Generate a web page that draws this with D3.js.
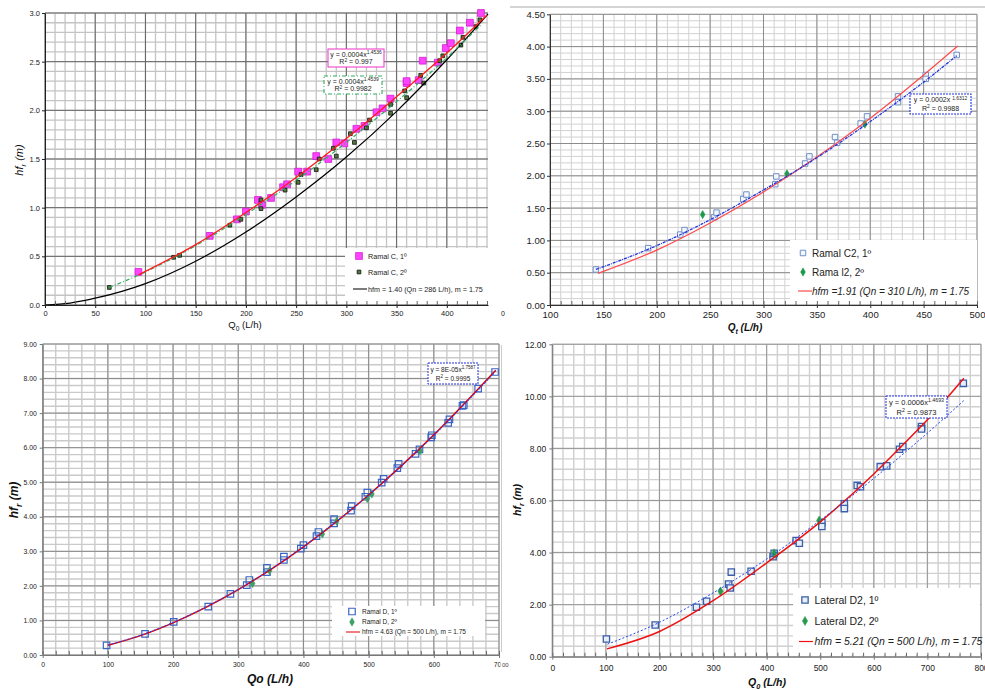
<!DOCTYPE html>
<html>
<head>
<meta charset="utf-8">
<script src="https://cdn.jsdelivr.net/npm/d3@7"></script>
<style>
  body { margin: 0; background: #fff; }
  svg { font-family: "Liberation Sans", Arial, sans-serif; }
</style>
</head>
<body>
<svg id="fig" width="985" height="690"></svg>
<script>
// ---- data ----
// Ramal C (top left)
const ramalC1 = [[93,0.34],[164,0.71],[191,0.88],[200,0.96],[212,1.08],[216,1.03],[225,1.10],[237,1.21],[241,1.24],[252,1.37],[261,1.37],[270,1.53],[282,1.50],[290,1.67],[298,1.66],[310,1.81],[318,1.84],[330,1.98],[336,2.02],[344,2.12],[360,2.28],[360,2.30],[372,2.31],[376,2.51],[391,2.49],[399,2.64],[404,2.69],[413,2.82],[423,2.90],[434,3.00]];
const ramalC2 = [[64,0.18],[128,0.49],[134,0.51],[184,0.82],[195,0.88],[215,1.08],[215,0.99],[239,1.18],[252,1.26],[255,1.34],[270,1.39],[273,1.50],[287,1.61],[290,1.53],[304,1.76],[308,1.67],[320,1.82],[323,1.90],[344,2.06],[344,1.97],[358,2.20],[360,2.13],[374,2.36],[377,2.28],[393,2.51],[396,2.56],[414,2.67],[416,2.75],[429,2.86],[433,2.93]];
const fitC1 = [[93,0.31],[150,0.62],[200,0.95],[250,1.31],[300,1.71],[350,2.14],[400,2.59],[440,2.98]];
const fitC2 = [[64,0.18],[100,0.34],[150,0.61],[200,0.93],[250,1.28],[300,1.67],[350,2.09],[400,2.54],[434,2.88]];
const hfmC = [[0,0],[25,0.02],[50,0.07],[100,0.22],[150,0.45],[200,0.75],[250,1.11],[300,1.52],[350,1.99],[400,2.52],[441,2.99]];

// Ramal C2 (top right)
const ramalC2a = [[143,0.55],[192,0.88],[222,1.09],[226,1.16],[254,1.36],[256,1.43],[281,1.64],[284,1.71],[311,1.87],[312,1.99],[339,2.19],[343,2.30],[367,2.60],[369,2.51],[391,2.81],[397,2.92],[426,3.23],[426,3.14],[452,3.56],[452,3.50],[481,3.87]];
const ramalI2b = [[243,1.40],[322,2.03],[395,2.80]];
const fitC2a = [[143,0.55],[200,0.92],[250,1.32],[300,1.78],[350,2.28],[400,2.84],[450,3.45],[481,3.86]];
const hfmC2 = [[145,0.49],[200,0.85],[250,1.27],[300,1.75],[350,2.29],[400,2.89],[450,3.56],[482,4.01]];

// Ramal D (bottom left)
const ramalD1 = [[98,0.28],[157,0.61],[201,0.96],[254,1.40],[288,1.77],[313,2.02],[317,2.17],[344,2.40],[344,2.52],[370,2.75],[370,2.85],[396,3.08],[400,3.18],[420,3.44],[423,3.56],[447,3.81],[447,3.93],[473,4.18],[474,4.31],[495,4.58],[498,4.70],[520,4.99],[523,5.10],[544,5.41],[546,5.53],[572,5.82],[578,5.95],[596,6.30],[597,6.36],[622,6.72],[624,6.82],[644,7.21],[646,7.23],[668,7.71],[694,8.19]];
const ramalD2 = [[322,2.07],[348,2.44],[429,3.50],[451,3.87],[498,4.53],[505,4.66],[579,5.91]];
const fitD1 = [[100,0.29],[150,0.57],[200,0.94],[300,1.90],[400,3.14],[500,4.63],[600,6.36],[695,8.21]];
const hfmD = [[100,0.28],[150,0.56],[200,0.93],[300,1.89],[400,3.13],[500,4.63],[600,6.37],[695,8.24]];

// Lateral D2 (bottom right)
const latD2a = [[101,0.68],[192,1.22],[269,1.90],[288,2.13],[329,2.79],[332,2.64],[334,3.25],[371,3.28],[412,3.84],[414,3.97],[455,4.46],[461,4.36],[503,5.15],[503,5.00],[545,5.87],[545,5.69],[569,6.58],[575,6.53],[612,7.30],[624,7.33],[648,7.97],[654,8.07],[689,8.84],[689,8.75],[767,10.50]];
const latD2b = [[314,2.51],[414,3.97],[498,5.23]];
const fitD2 = [[103,0.48],[200,1.32],[300,2.45],[400,3.75],[500,5.24],[600,6.85],[700,8.59],[768,9.84]];
const hfmD2 = [[102,0.30],[200,0.97],[300,2.15],[400,3.60],[500,5.18],[600,7.02],[650,8.05],[700,9.10],[768,10.70]];

// tick values
const p1XTicks = [0,50,100,150,200,250,300,350,400];
const p1YTicks = [0,0.5,1,1.5,2,2.5,3];
const p2XTicks = [100,150,200,250,300,350,400,450,500];
const p2YTicks = [0,0.5,1,1.5,2,2.5,3,3.5,4,4.5];
const p3XTicks = [0,100,200,300,400,500,600,700];
const p3YTicks = [0,1,2,3,4,5,6,7,8,9];
const p4XTicks = [0,100,200,300,400,500,600,700,800];
const p4YTicks = [0,2,4,6,8,10,12];

const FONT = '"Liberation Sans", Arial, sans-serif';
const svg = d3.select("#fig");

// text with sub/superscript parts: [[text, "sub"|"sup"|null], ...]
function richText(sel, parts, size) {
  let shift = 0;
  parts.forEach(([t, kind]) => {
    const target = kind === "sub" ? size * 0.3 : kind === "sup" ? -size * 0.4 : 0;
    sel.append("tspan")
      .attr("dy", target - shift)
      .attr("font-size", kind ? size * 0.7 : size)
      .text(t);
    shift = target;
  });
  return sel;
}

function drawPanel(p) {
  const g = svg.append("g");
  if (p.clip) {
    svg.append("clipPath").attr("id", p.clip.id)
      .append("rect")
      .attr("x", p.clip.x).attr("y", p.clip.y).attr("width", p.clip.w).attr("height", p.clip.h);
    g.attr("clip-path", `url(#${p.clip.id})`);
  }
  const x = d3.scaleLinear().domain(p.xDomain).range([p.left, p.right]);
  const y = d3.scaleLinear().domain(p.yDomain).range([p.bottom, p.top]);

  const minorX = d3.range(p.xDomain[0], p.xDomain[1] + 1e-6, p.xMinor);
  const minorY = d3.range(p.yDomain[0], p.yDomain[1] + 1e-6, p.yMinor);

  const gridLines = (vals, vertical, color, width) => g.append("g")
    .selectAll("line").data(vals).join("line")
    .attr("x1", d => vertical ? x(d) : p.left)
    .attr("x2", d => vertical ? x(d) : p.right)
    .attr("y1", d => vertical ? p.top : y(d))
    .attr("y2", d => vertical ? p.bottom : y(d))
    .attr("stroke", color)
    .attr("stroke-width", width);

  // grid
  gridLines(minorX, true, p.minorColor, p.minorWidth);
  gridLines(minorY, false, p.minorColor, p.minorWidth);
  gridLines(p.xTicks, true, p.majorColor, 1);
  gridLines(p.yTicks, false, p.majorColor, 1);

  // markers
  p.points.forEach(s => {
    g.append("g").selectAll("path").data(s.data).join("path")
      .attr("transform", d => `translate(${x(d[0])},${y(d[1])})`)
      .attr("d", d3.symbol().type(s.shape).size(s.area))
      .attr("fill", s.fill)
      .attr("stroke", s.stroke)
      .attr("stroke-width", s.sw);
  });

  // curves
  const line = d3.line().x(d => x(d[0])).y(d => y(d[1])).curve(d3.curveMonotoneX);
  p.lines.forEach(l => {
    g.append("path").datum(l.data)
      .attr("d", line)
      .attr("fill", "none")
      .attr("stroke", l.color)
      .attr("stroke-width", l.width)
      .attr("stroke-dasharray", l.dash || null);
  });

  // legend
  const lg = p.legend;
  g.append("rect")
    .attr("x", lg.x).attr("y", lg.y).attr("width", lg.w).attr("height", lg.h)
    .attr("fill", "#fff");
  lg.items.forEach(it => {
    if (it.line) {
      g.append("line")
        .attr("x1", it.x - 7).attr("x2", it.x + 7).attr("y1", it.y).attr("y2", it.y)
        .attr("stroke", it.line.color).attr("stroke-width", it.line.width);
    } else {
      g.append("path")
        .attr("transform", `translate(${it.x},${it.y})`)
        .attr("d", d3.symbol().type(it.marker.shape).size(it.marker.area))
        .attr("fill", it.marker.fill)
        .attr("stroke", it.marker.stroke)
        .attr("stroke-width", it.marker.sw);
    }
    g.append("text")
      .attr("x", lg.textX).attr("y", it.y)
      .attr("dy", "0.35em")
      .attr("font-size", lg.font)
      .attr("font-style", it.italic ? "italic" : null)
      .attr("fill", "#222")
      .text(it.label);
  });

  // minor inward ticks along the bottom axis
  g.append("g").attr("transform", `translate(0,${p.bottom})`)
    .call(d3.axisBottom(x).tickValues(minorX).tickSize(-4).tickSizeOuter(0).tickFormat(""))
    .call(a => a.select(".domain").remove())
    .call(a => a.selectAll("line").attr("stroke", "#666"));

  // axes
  g.append("g").attr("transform", `translate(0,${p.bottom})`)
    .call(d3.axisBottom(x).tickValues(p.xTicks).tickSize(3).tickSizeOuter(0).tickPadding(p.xPad).tickFormat(p.xFmt))
    .call(a => a.attr("font-family", FONT).attr("font-size", p.tickFont))
    .call(a => a.selectAll("line, path").attr("stroke", p.axisColor))
    .call(a => a.selectAll("text").attr("fill", "#222"));
  g.append("g").attr("transform", `translate(${p.left},0)`)
    .call(d3.axisLeft(y).tickValues(p.yTicks).tickSize(3).tickSizeOuter(0).tickPadding(p.yPad).tickFormat(p.yFmt))
    .call(a => a.attr("font-family", FONT).attr("font-size", p.tickFont))
    .call(a => a.selectAll("line, path").attr("stroke", p.axisColor))
    .call(a => a.selectAll("text").attr("fill", "#222"));

  // axis titles
  if (p.xTitle) {
    const t = g.append("text")
      .attr("x", p.xTitle.x).attr("y", p.xTitle.y)
      .attr("text-anchor", "middle")
      .attr("font-weight", p.xTitle.bold ? "bold" : null)
      .attr("font-style", p.xTitle.italic ? "italic" : null)
      .attr("font-size", p.xTitle.size)
      .attr("fill", "#111");
    richText(t, p.xTitle.parts, p.xTitle.size);
  }
  if (p.yTitle) {
    const t = g.append("text")
      .attr("transform", `translate(${p.yTitle.x},${p.yTitle.y}) rotate(-90)`)
      .attr("text-anchor", "middle")
      .attr("font-weight", p.yTitle.bold ? "bold" : null)
      .attr("font-style", "italic")
      .attr("font-size", p.yTitle.size)
      .attr("fill", "#111");
    richText(t, p.yTitle.parts, p.yTitle.size);
  }

  // trendline equation boxes
  p.boxes.forEach(b => {
    g.append("rect")
      .attr("x", b.x).attr("y", b.y).attr("width", b.w).attr("height", b.h)
      .attr("fill", "#fff")
      .attr("stroke", b.color).attr("stroke-width", b.sw)
      .attr("stroke-dasharray", b.dash || null);
    const cx = b.x + b.w / 2;
    const t1 = g.append("text")
      .attr("x", cx).attr("y", b.y + b.h * 0.42)
      .attr("text-anchor", "middle").attr("font-size", b.font).attr("fill", "#222");
    richText(t1, [[b.eq, null], [b.exp, "sup"]], b.font);
    const t2 = g.append("text")
      .attr("x", cx).attr("y", b.y + b.h * 0.86)
      .attr("text-anchor", "middle").attr("font-size", b.font).attr("fill", "#222");
    richText(t2, [["R", null], ["2", "sup"], [" = " + b.r2, null]], b.font);
  });
}

const sq = d3.symbolSquare, dm = d3.symbolDiamond;

// ---- top left: Ramal C ----
const p1Pink = { shape: sq, area: 46, fill: "#ff44ff", stroke: "#d020d0", sw: 0.8 };
const p1Dark = { shape: sq, area: 14, fill: "#4f7a3c", stroke: "#111", sw: 0.8 };
drawPanel({
  left: 45, right: 488, top: 13, bottom: 305,
  xDomain: [0, 441], yDomain: [0, 3],
  xMinor: 10, yMinor: 0.1,
  xTicks: p1XTicks, yTicks: p1YTicks,
  xFmt: d3.format("d"), yFmt: d3.format(".1f"),
  tickFont: 7.5, xPad: 3, yPad: 2,
  minorColor: "#c4c4c4", minorWidth: 1.3, majorColor: "#666", axisColor: "#222",
  points: [
    Object.assign({ data: ramalC1 }, p1Pink),
    Object.assign({ data: ramalC2 }, p1Dark)
  ],
  lines: [
    { data: hfmC, color: "#000", width: 1.2 },
    { data: fitC2, color: "#2fae5e", width: 1.2, dash: "4,2,1,2" },
    { data: fitC1, color: "#ff1a1a", width: 1.3 }
  ],
  legend: {
    x: 345, y: 248, w: 144, h: 56, textX: 368, font: 7.2,
    items: [
      { x: 359, y: 256, marker: p1Pink, label: "Ramal C, 1º" },
      { x: 359, y: 272, marker: p1Dark, label: "Ramal C, 2º" },
      { x: 360, y: 289, line: { color: "#444", width: 1.4 }, label: "hfm = 1.40 (Qn = 286 L/h), m = 1.75" }
    ]
  },
  xTitle: { x: 245, y: 328, size: 9.5, parts: [["Q", null], ["0", "sub"], [" (L/h)", null]] },
  yTitle: { x: 23, y: 160, size: 11, parts: [["hf", null], ["r", "sub"], [" (m)", null]] },
  boxes: [
    { x: 328, y: 49, w: 56, h: 18, color: "#ee44cc", sw: 1.1, font: 7, eq: "y = 0.0004x", exp: "1.4536", r2: "0.997" },
    { x: 324, y: 76, w: 58, h: 18, color: "#2fae5e", sw: 1.1, dash: "4,2,1,2", font: 7, eq: "y = 0.0004x", exp: "1.4539", r2: "0.9982" }
  ]
});

// ---- top right: Ramal C2 ----
const p2Sq = { shape: sq, area: 30, fill: "#f4f7fc", stroke: "#6f8fc8", sw: 1 };
const p2Dm = { shape: dm, area: 20, fill: "#1e9a4a", stroke: "#1e9a4a", sw: 0.5 };
svg.append("line").attr("x1", 510).attr("x2", 985).attr("y1", 7).attr("y2", 7)
  .attr("stroke", "#aaa").attr("stroke-width", 1);
drawPanel({
  left: 550, right: 977, top: 14.3, bottom: 305,
  xDomain: [100, 500], yDomain: [0, 4.5],
  xMinor: 10, yMinor: 0.1,
  xTicks: p2XTicks, yTicks: p2YTicks,
  xFmt: d3.format("d"), yFmt: d3.format(".2f"),
  tickFont: 9.5, xPad: 3, yPad: 2,
  minorColor: "#d2d2d2", minorWidth: 1, majorColor: "#8c8c8c", axisColor: "#333",
  points: [
    Object.assign({ data: ramalC2a }, p2Sq),
    Object.assign({ data: ramalI2b }, p2Dm)
  ],
  lines: [
    { data: hfmC2, color: "#ff4a4a", width: 1.2 },
    { data: fitC2a, color: "#2233dd", width: 1.3, dash: "3,1,1,1" }
  ],
  legend: {
    x: 790, y: 240, w: 187, h: 64, textX: 812, font: 10,
    items: [
      { x: 803, y: 253, marker: p2Sq, label: "Ramal C2, 1º" },
      { x: 803, y: 272, marker: p2Dm, label: "Rama l2, 2º" },
      { x: 805, y: 291, line: { color: "#ff4a4a", width: 1.2 }, italic: true, label: "hfm =1.91 (Qn = 310 L/h), m = 1.75" }
    ]
  },
  xTitle: { x: 745, y: 331, size: 10, bold: true, italic: true, parts: [["Q", null], ["t", "sub"], [" (L/h)", null]] },
  yTitle: null,
  boxes: [
    { x: 910, y: 94, w: 61, h: 20, color: "#2233dd", sw: 1.1, dash: "2,1", font: 7, eq: "y = 0.0002x ", exp: "1.6312", r2: "0.9988" }
  ]
});
svg.append("text").attr("x", 501).attr("y", 316).attr("font-size", 7).attr("fill", "#222").text("0");

// ---- bottom left: Ramal D ----
const p3Sq = { shape: sq, area: 42, fill: "none", stroke: "#3a66c4", sw: 1.2 };
const p3Dm = { shape: dm, area: 20, fill: "#3aa063", stroke: "#3aa063", sw: 0.5 };
drawPanel({
  clip: { id: "clipD", x: 0, y: 330, w: 500.5, h: 360 },
  left: 42.7, right: 499, top: 344, bottom: 655,
  xDomain: [0, 700], yDomain: [0, 9],
  xMinor: 20, yMinor: 0.2,
  xTicks: p3XTicks, yTicks: p3YTicks,
  xFmt: d3.format("d"), yFmt: d3.format(".2f"),
  tickFont: 6.8, xPad: 4, yPad: 3,
  minorColor: "#cacaca", minorWidth: 1.4, majorColor: "#8a8a8a", axisColor: "#777",
  points: [
    Object.assign({ data: ramalD1 }, p3Sq),
    Object.assign({ data: ramalD2 }, p3Dm)
  ],
  lines: [
    { data: hfmD, color: "#dd0000", width: 1.5 },
    { data: fitD1, color: "#3344ee", width: 1.1, dash: "2,2" }
  ],
  legend: {
    x: 332, y: 606, w: 153, h: 30, textX: 362, font: 6.5,
    items: [
      { x: 352, y: 611.5, marker: p3Sq, label: "Ramal D, 1º" },
      { x: 352, y: 622, marker: p3Dm, label: "Ramal D, 2º" },
      { x: 353, y: 632, line: { color: "#dd0000", width: 1.2 }, label: "hfm = 4.63 (Qn = 500 L/h), m = 1.75" }
    ]
  },
  xTitle: { x: 270, y: 683, size: 12, bold: true, italic: true, parts: [["Qo (L/h)", null]] },
  yTitle: { x: 18, y: 500, size: 12, bold: true, parts: [["hf", null], ["r", "sub"], [" (m)", null]] },
  boxes: [
    { x: 428, y: 363, w: 50, h: 21, color: "#2233dd", sw: 1, dash: "2,1", font: 6.5, eq: "y = 8E-05x", exp: "1.7587", r2: "0.9995" }
  ]
});

// ---- bottom right: Lateral D2 ----
const p4Sq = { shape: sq, area: 40, fill: "#e8eef8", stroke: "#3a5ea8", sw: 1.3 };
const p4Dm = { shape: dm, area: 24, fill: "#2a9a4a", stroke: "#2a9a4a", sw: 0.5 };
svg.append("line").attr("x1", 501.5).attr("x2", 501.5).attr("y1", 345).attr("y2", 652)
  .attr("stroke", "#ccc").attr("stroke-width", 1);
drawPanel({
  left: 552.3, right: 981, top: 344.3, bottom: 656.7,
  xDomain: [0, 800], yDomain: [0, 12],
  xMinor: 20, yMinor: 0.4,
  xTicks: p4XTicks, yTicks: p4YTicks,
  xFmt: d3.format("d"), yFmt: d3.format(".2f"),
  tickFont: 8.5, xPad: 5, yPad: 3,
  minorColor: "#d0d0d0", minorWidth: 1.4, majorColor: "#999", axisColor: "#777",
  points: [
    Object.assign({ data: latD2a }, p4Sq),
    Object.assign({ data: latD2b }, p4Dm)
  ],
  lines: [
    { data: hfmD2, color: "#ee1111", width: 1.5 },
    { data: fitD2, color: "#2244ee", width: 1, dash: "2,2" }
  ],
  legend: {
    x: 793, y: 588, w: 187, h: 67, textX: 814.5, font: 10.5,
    items: [
      { x: 805, y: 600, marker: p4Sq, label: "Lateral D2, 1º" },
      { x: 805, y: 621, marker: p4Dm, label: "Lateral D2, 2º" },
      { x: 806, y: 641.5, line: { color: "#ee1111", width: 1.2 }, italic: true, label: "hfm = 5.21 (Qn = 500 L/h), m = 1.75" }
    ]
  },
  xTitle: { x: 767, y: 686, size: 10.5, bold: true, italic: true, parts: [["Q", null], ["0", "sub"], [" (L/h)", null]] },
  yTitle: { x: 521, y: 500, size: 10.5, bold: true, parts: [["hf", null], ["r", "sub"], [" (m)", null]] },
  boxes: [
    { x: 886, y: 396, w: 61, h: 22, color: "#2233dd", sw: 1, dash: "2,1", font: 7.5, eq: "y = 0.0006x", exp: "1.4693", r2: "0.9873" }
  ]
});
svg.append("text").attr("x", 502).attr("y", 667).attr("font-size", 6).attr("fill", "#444").text("00");
</script>
</body>
</html>
